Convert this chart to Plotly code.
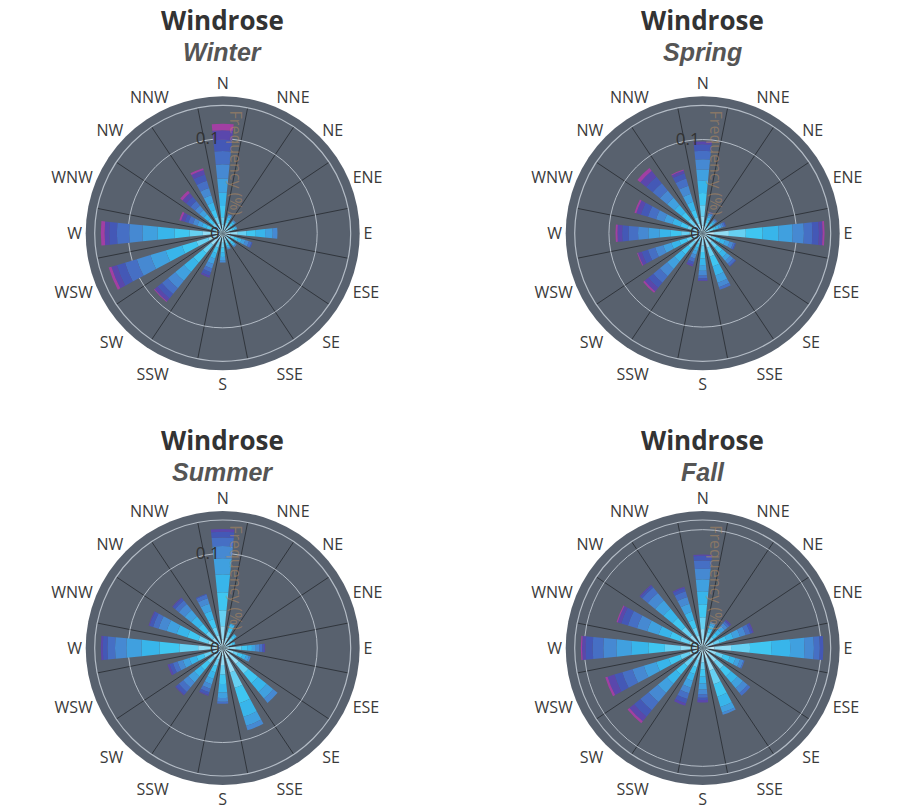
import plotly.graph_objects as go

# Compass sectors and wind-speed classes
directions = ["N", "NNE", "NE", "ENE", "E", "ESE", "SE", "SSE",
              "S", "SSW", "SW", "WSW", "W", "WNW", "NW", "NNW"]
speed_bins = ["0-1 m/s", "1-2 m/s", "2-3 m/s", "3-4 m/s", "4-5 m/s", "5-6 m/s",
              "6-7 m/s", "7-8 m/s", "8-9 m/s", "9-10 m/s", "10+ m/s"]
bin_colors = ["#bde9f6", "#92dcf4", "#66d0f2", "#3fc6f1", "#38b5ea", "#40a0df",
              "#4689d2", "#466fc4", "#4458b6", "#5a47ac", "#a23fa3"]

# Frequency per direction (rows, N..NNW), split by speed class (columns)
winter = [
    [0.003, 0.006, 0.008, 0.012, 0.014, 0.015, 0.015, 0.014, 0.012, 0.010, 0.007],
    [0.004, 0.004, 0.004, 0.003, 0.003, 0.002, 0.001, 0, 0, 0, 0],
    [0.004, 0.004, 0.003, 0.003, 0.002, 0.001, 0.001, 0, 0, 0, 0],
    [0.004, 0.004, 0.003, 0.002, 0.002, 0.001, 0, 0, 0, 0, 0],
    [0.008, 0.008, 0.009, 0.010, 0.010, 0.008, 0.005, 0, 0, 0, 0],
    [0.005, 0.004, 0.004, 0.004, 0.004, 0.004, 0.004, 0.003, 0.001, 0, 0],
    [0.004, 0.004, 0.004, 0.003, 0.002, 0.001, 0.001, 0, 0, 0, 0],
    [0.004, 0.004, 0.003, 0.003, 0.002, 0.001, 0.001, 0, 0, 0, 0],
    [0.005, 0.005, 0.005, 0.005, 0.005, 0.004, 0.002, 0, 0, 0, 0],
    [0.005, 0.005, 0.006, 0.006, 0.006, 0.006, 0.005, 0.004, 0.004, 0.002, 0],
    [0.007, 0.009, 0.011, 0.013, 0.013, 0.012, 0.010, 0.008, 0.006, 0.004, 0.001],
    [0.006, 0.010, 0.013, 0.016, 0.018, 0.017, 0.015, 0.013, 0.009, 0.006, 0.003],
    [0.008, 0.013, 0.014, 0.016, 0.018, 0.016, 0.014, 0.013, 0.008, 0.005, 0.004],
    [0.004, 0.004, 0.005, 0.005, 0.005, 0.005, 0.005, 0.005, 0.004, 0.004, 0.002],
    [0.004, 0.005, 0.005, 0.006, 0.006, 0.006, 0.006, 0.006, 0.006, 0.005, 0.003],
    [0.005, 0.006, 0.007, 0.008, 0.008, 0.008, 0.008, 0.008, 0.007, 0.005, 0.002],
]
spring = [
    [0.008, 0.010, 0.012, 0.013, 0.013, 0.012, 0.011, 0.009, 0.007, 0.003, 0],
    [0.004, 0.004, 0.004, 0.003, 0.003, 0.002, 0.002, 0.001, 0.001, 0, 0],
    [0.004, 0.004, 0.003, 0.003, 0.002, 0.002, 0.001, 0.001, 0, 0, 0],
    [0.004, 0.004, 0.004, 0.003, 0.003, 0.003, 0.002, 0.002, 0.001, 0, 0],
    [0.012, 0.016, 0.018, 0.018, 0.017, 0.015, 0.012, 0.009, 0.007, 0.004, 0.002],
    [0.005, 0.005, 0.005, 0.005, 0.005, 0.005, 0.004, 0.002, 0.001, 0, 0],
    [0.006, 0.007, 0.007, 0.007, 0.006, 0.005, 0.004, 0.003, 0.001, 0, 0],
    [0.007, 0.009, 0.010, 0.011, 0.010, 0.008, 0.005, 0.003, 0, 0, 0],
    [0.006, 0.007, 0.007, 0.007, 0.007, 0.006, 0.005, 0.003, 0.002, 0.001, 0],
    [0.004, 0.004, 0.004, 0.004, 0.004, 0.004, 0.004, 0.004, 0.003, 0.002, 0],
    [0.005, 0.007, 0.008, 0.009, 0.010, 0.010, 0.010, 0.009, 0.007, 0.005, 0.002],
    [0.005, 0.006, 0.007, 0.008, 0.009, 0.009, 0.009, 0.008, 0.007, 0.004, 0.001],
    [0.006, 0.008, 0.009, 0.011, 0.012, 0.012, 0.011, 0.010, 0.007, 0.005, 0.002],
    [0.004, 0.006, 0.007, 0.008, 0.009, 0.009, 0.009, 0.009, 0.008, 0.005, 0.002],
    [0.005, 0.007, 0.008, 0.009, 0.010, 0.010, 0.010, 0.010, 0.009, 0.008, 0.004],
    [0.005, 0.006, 0.007, 0.008, 0.009, 0.009, 0.009, 0.008, 0.006, 0.003, 0.001],
]
summer = [
    [0.009, 0.014, 0.017, 0.019, 0.019, 0.017, 0.013, 0.009, 0.006, 0.003, 0],
    [0.006, 0.006, 0.006, 0.005, 0.003, 0.001, 0, 0, 0, 0, 0],
    [0.005, 0.005, 0.004, 0.003, 0.002, 0, 0, 0, 0, 0, 0],
    [0.004, 0.004, 0.003, 0.002, 0.001, 0, 0, 0, 0, 0, 0],
    [0.007, 0.007, 0.006, 0.006, 0.005, 0.004, 0.004, 0.003, 0.002, 0.001, 0],
    [0.006, 0.006, 0.005, 0.005, 0.004, 0.003, 0.002, 0, 0, 0, 0],
    [0.010, 0.012, 0.013, 0.013, 0.012, 0.009, 0.006, 0, 0, 0, 0],
    [0.012, 0.015, 0.017, 0.017, 0.015, 0.010, 0.005, 0, 0, 0, 0],
    [0.008, 0.010, 0.010, 0.010, 0.009, 0.006, 0.004, 0.002, 0, 0, 0],
    [0.006, 0.007, 0.007, 0.007, 0.007, 0.006, 0.005, 0.004, 0.003, 0.001, 0],
    [0.006, 0.007, 0.008, 0.009, 0.009, 0.008, 0.007, 0.006, 0.004, 0.001, 0],
    [0.006, 0.007, 0.008, 0.008, 0.008, 0.007, 0.006, 0.005, 0.004, 0.002, 0],
    [0.010, 0.016, 0.020, 0.021, 0.019, 0.016, 0.012, 0.008, 0.005, 0.002, 0],
    [0.007, 0.009, 0.011, 0.012, 0.012, 0.011, 0.009, 0.006, 0.004, 0.001, 0],
    [0.006, 0.008, 0.009, 0.010, 0.010, 0.009, 0.008, 0.005, 0.003, 0.001, 0],
    [0.006, 0.008, 0.009, 0.009, 0.009, 0.008, 0.006, 0.004, 0.001, 0, 0],
]
fall = [
    [0.007, 0.009, 0.010, 0.011, 0.011, 0.010, 0.009, 0.007, 0.004, 0.001, 0],
    [0.005, 0.005, 0.004, 0.003, 0.003, 0.002, 0.001, 0, 0, 0, 0],
    [0.004, 0.004, 0.004, 0.004, 0.004, 0.004, 0.003, 0.002, 0.001, 0.001, 0],
    [0.005, 0.005, 0.005, 0.006, 0.006, 0.006, 0.005, 0.004, 0.002, 0.001, 0],
    [0.010, 0.014, 0.016, 0.018, 0.016, 0.012, 0.008, 0.005, 0.003, 0, 0],
    [0.006, 0.006, 0.006, 0.006, 0.005, 0.004, 0.003, 0.001, 0, 0, 0],
    [0.007, 0.008, 0.008, 0.008, 0.007, 0.006, 0.005, 0.003, 0, 0, 0],
    [0.009, 0.011, 0.012, 0.011, 0.009, 0.005, 0.002, 0, 0, 0, 0],
    [0.006, 0.006, 0.006, 0.006, 0.006, 0.005, 0.004, 0.003, 0.002, 0.002, 0],
    [0.005, 0.006, 0.006, 0.006, 0.006, 0.006, 0.005, 0.005, 0.004, 0.002, 0],
    [0.005, 0.007, 0.008, 0.009, 0.010, 0.010, 0.010, 0.009, 0.007, 0.005, 0.002],
    [0.005, 0.007, 0.008, 0.010, 0.011, 0.011, 0.010, 0.009, 0.007, 0.006, 0.002],
    [0.008, 0.011, 0.013, 0.014, 0.014, 0.013, 0.011, 0.009, 0.006, 0.003, 0.001],
    [0.005, 0.007, 0.008, 0.009, 0.010, 0.010, 0.009, 0.008, 0.006, 0.003, 0.001],
    [0.006, 0.008, 0.009, 0.010, 0.010, 0.009, 0.008, 0.006, 0.002, 0.001, 0],
    [0.005, 0.006, 0.007, 0.007, 0.007, 0.007, 0.006, 0.005, 0.003, 0.001, 0],
]
seasons = ["Winter", "Spring", "Summer", "Fall"]
season_data = [winter, spring, summer, fall]
radial_ticks = [0, 0.1]

# Page geometry
W, H = 899, 810
R_DISK = 128          # plot disk radius (px)
R_RING = 137          # outer pane ring radius (px)
centers = [(222.7, 233.3), (702.7, 233.3), (222.7, 648.0), (702.7, 648.0)]

PANE = "#58616e"
GRID_DARK = "#30353c"
GRID_LIGHT = "#b4bcc6"
LABEL_FONT = dict(family="Open Sans, Noto Sans, sans-serif", size=16, color="#3a3a3a")

sector = 360 / len(directions)
angles = [i * sector for i in range(len(directions))]
boundaries = [a + sector / 2 for a in angles]

fig = go.Figure()
layout = dict(width=W, height=H, autosize=False, margin=dict(l=0, r=0, t=0, b=0),
              paper_bgcolor="white", plot_bgcolor="white", showlegend=False,
              shapes=[], annotations=[])

for k, (name, rows, (cx, cy)) in enumerate(zip(seasons, season_data, centers)):
    base_id = "polar" if k == 0 else f"polar{2 * k + 1}"
    top_id = f"polar{2 * k + 2}"
    dom = dict(x=[(cx - R_DISK) / W, (cx + R_DISK) / W],
               y=[(H - cy - R_DISK) / H, (H - cy + R_DISK) / H])
    totals = [sum(r) for r in rows]
    rmax = max(totals) * 1.05

    # background pane: grid spokes between sectors, radial rings
    fig.add_trace(go.Scatterpolar(r=[0], theta=[0], subplot=base_id, mode="markers",
                                  marker=dict(size=1, opacity=0), hoverinfo="skip"))
    layout[base_id] = dict(
        domain=dom, bgcolor=PANE,
        angularaxis=dict(rotation=90, direction="clockwise", tickmode="array",
                         tickvals=boundaries, showticklabels=False, ticks="",
                         showgrid=True, gridcolor=GRID_DARK, gridwidth=1.3,
                         showline=True, linecolor=GRID_LIGHT, linewidth=1.2),
        radialaxis=dict(range=[0, rmax], tickvals=radial_ticks, showticklabels=False,
                        ticks="", showgrid=True, gridcolor=GRID_LIGHT, gridwidth=1.2,
                        showline=False),
    )

    # stacked bars per speed class
    for b, (bname, col) in enumerate(zip(speed_bins, bin_colors)):
        fig.add_trace(go.Barpolar(
            r=[row[b] for row in rows], theta=angles, width=11.5, subplot=top_id,
            name=bname, marker=dict(color=col, line=dict(width=0)),
        ))
    shown = [t for t in radial_ticks if t <= 0.9 * rmax]
    layout[top_id] = dict(
        domain=dom, bgcolor="rgba(0,0,0,0)", barmode="stack",
        angularaxis=dict(rotation=90, direction="clockwise", tickmode="array",
                         tickvals=angles, ticktext=directions, ticks="outside",
                         ticklen=9, tickcolor="rgba(0,0,0,0)",
                         showgrid=False, showline=False, tickfont=LABEL_FONT),
        radialaxis=dict(range=[0, rmax], tickvals=shown, ticks="", angle=90,
                        tickangle=90, side="counterclockwise", showgrid=False,
                        showline=False,
                        tickfont=dict(family="Open Sans, sans-serif", size=17, color="#333333")),
    )

    # outer ring of the pane
    layout["shapes"].append(dict(
        type="circle", xref="paper", yref="paper", layer="below",
        xsizemode="pixel", ysizemode="pixel",
        xanchor=cx / W, yanchor=(H - cy) / H,
        x0=-R_RING, x1=R_RING, y0=-R_RING, y1=R_RING,
        fillcolor=PANE, line=dict(width=0),
    ))

    # titles
    layout["annotations"].append(dict(
        text="<b>Windrose</b>", x=cx / W, y=(H - 20) / H if cy < 400 else (H - 440) / H,
        xref="paper", yref="paper", showarrow=False, xanchor="center", yanchor="middle",
        font=dict(family="Open Sans, sans-serif", size=26, color="#333333"),
    ))
    layout["annotations"].append(dict(
        text=f"<b><i>{name}</i></b>", x=cx / W, y=(H - 52) / H if cy < 400 else (H - 472) / H,
        xref="paper", yref="paper", showarrow=False, xanchor="center", yanchor="middle",
        font=dict(family="Liberation Sans, Arial, sans-serif", size=25, color="#555555"),
    ))
    # radial axis title
    layout["annotations"].append(dict(
        text="Frequency (%)", x=(cx + 13) / W, y=(H - cy + 70) / H, textangle=90,
        xref="paper", yref="paper", showarrow=False, xanchor="center", yanchor="middle",
        font=dict(family="Open Sans, sans-serif", size=16, color="rgba(196,146,92,0.45)"),
    ))

fig.update_layout(**layout)
fig.write_html("out.html")
